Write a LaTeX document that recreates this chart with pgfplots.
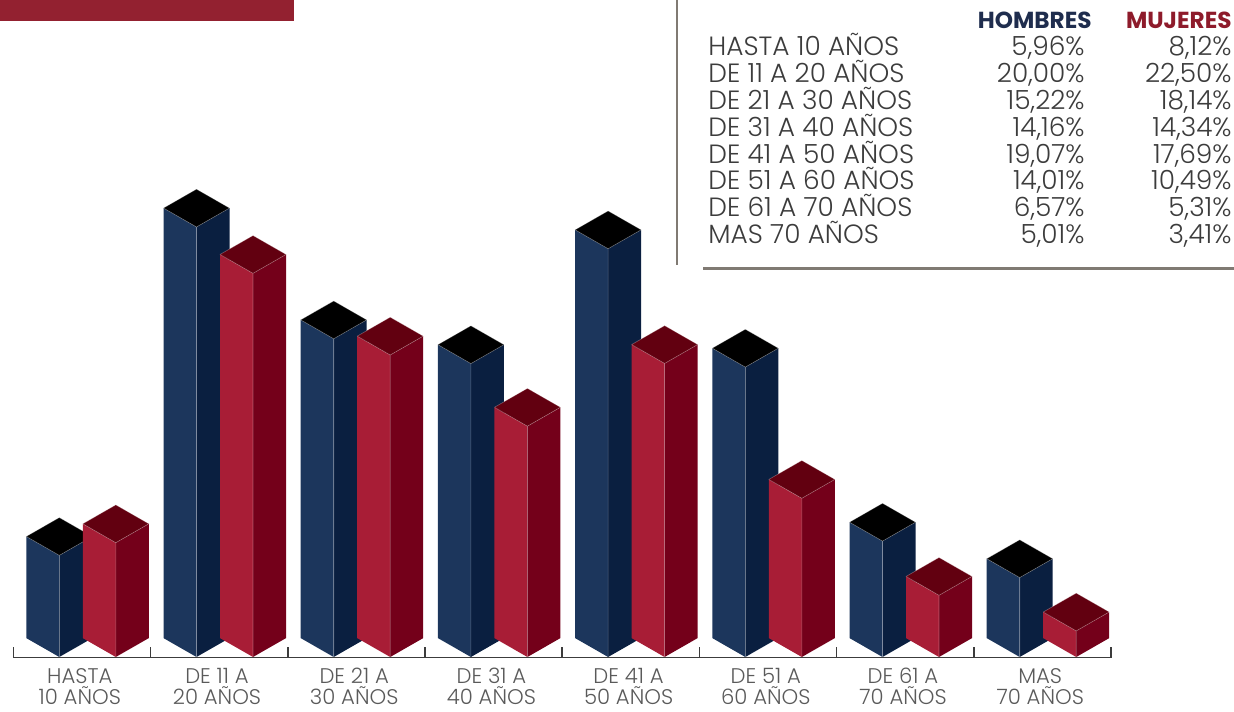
\documentclass[border=0pt]{standalone}
\usepackage{pgfplots}
\pgfplotsset{compat=1.18}
\usepackage{pgfplotstable}
\usepackage{fontspec}
\IfFontExistsTF{Poppins Light}{%
  \IfFontExistsTF{Poppins Bold}{\setmainfont{Poppins Light}[BoldFont={Poppins Bold}]}{\setmainfont{Poppins Light}}%
}{\setmainfont{Poppins}}

\definecolor{navyL}{RGB}{28,54,92}
\definecolor{navyR}{RGB}{10,31,64}
\definecolor{navyT}{RGB}{0,0,0}
\definecolor{redL}{RGB}{168,29,54}
\definecolor{redR}{RGB}{116,0,26}
\definecolor{redT}{RGB}{98,0,16}
\definecolor{stripred}{RGB}{147,33,48}
\definecolor{hdrnavy}{RGB}{31,45,78}
\definecolor{hdrred}{RGB}{142,27,43}
\definecolor{linegray}{RGB}{128,122,115}
\definecolor{txtgray}{RGB}{60,60,60}
\definecolor{labgray}{RGB}{90,90,90}
\definecolor{basegray}{RGB}{60,60,60}

% isometric box mark: top vertex at the data point, bottom vertex at value 0
\newcommand\defisobox[5]{%
\pgfdeclareplotmark{#1}{%
 \pgfscope
 \pgftransformxshift{#2}%
 \pgfpathmoveto{\pgfqpoint{-16.5pt}{-9.45pt}}%
 \pgfpathlineto{\pgfqpoint{0pt}{-18.9pt}}%
 \pgfpathlineto{\pgfpoint{0pt}{-\boxh pt}}%
 \pgfpathlineto{\pgfpoint{-16.5pt}{-\boxh pt+9.45pt}}%
 \pgfpathclose
 \pgfsetfillcolor{#3}\pgfusepath{fill}%
 \pgfpathmoveto{\pgfqpoint{0pt}{-18.9pt}}%
 \pgfpathlineto{\pgfqpoint{16.5pt}{-9.45pt}}%
 \pgfpathlineto{\pgfpoint{16.5pt}{-\boxh pt+9.45pt}}%
 \pgfpathlineto{\pgfpoint{0pt}{-\boxh pt}}%
 \pgfpathclose
 \pgfsetfillcolor{#4}\pgfusepath{fill}%
 \pgfpathmoveto{\pgfqpoint{0pt}{0pt}}%
 \pgfpathlineto{\pgfqpoint{16.5pt}{-9.45pt}}%
 \pgfpathlineto{\pgfqpoint{0pt}{-18.9pt}}%
 \pgfpathlineto{\pgfqpoint{-16.5pt}{-9.45pt}}%
 \pgfpathclose
 \pgfsetfillcolor{#5}\pgfusepath{fill}%
 \pgfsetstrokecolor{white}\pgfsetstrokeopacity{0.3}\pgfsetlinewidth{0.3pt}%
 \pgfpathmoveto{\pgfqpoint{0pt}{-18.9pt}}\pgfpathlineto{\pgfpoint{0pt}{-\boxh pt}}%
 \pgfpathmoveto{\pgfqpoint{-16.5pt}{-9.45pt}}\pgfpathlineto{\pgfqpoint{0pt}{-18.9pt}}\pgfpathlineto{\pgfqpoint{16.5pt}{-9.45pt}}%
 \pgfpathlineto{\pgfqpoint{0pt}{0pt}}\pgfpathlineto{\pgfqpoint{-16.5pt}{-9.45pt}}%
 \pgfusepath{stroke}%
 \endpgfscope
}}
\defisobox{navybox}{-11.25pt}{navyL}{navyR}{navyT}
\defisobox{redbox}{17pt}{redL}{redR}{redT}

\pgfplotstableread{
k v
0 5.96
1 20.00
2 15.22
3 14.16
4 19.07
5 14.01
6 6.57
7 5.01
}\hombres
\pgfplotstableread{
k v
0 8.12
1 22.50
2 18.14
3 14.34
4 17.69
5 10.49
6 5.31
7 3.41
}\mujeres

\begin{document}
\begin{tikzpicture}
\begin{axis}[
  at={(0,0)}, anchor=south west,
  x=68.6pt, y=11.695pt,
  xmin=-0.5962, xmax=8.3980, ymin=-2.3087, ymax=28.0889,
  clip=false,
  axis line style={draw=none},
  tick style={draw=none},
  ytick=\empty,
  xtick={0,...,7},
  xticklabels={{HASTA\\10 AÑOS},{DE 11 A\\20 AÑOS},{DE 21 A\\30 AÑOS},{DE 31 A\\40 AÑOS},{DE 41 A\\50 AÑOS},{DE 51 A\\60 AÑOS},{DE 61 A\\70 AÑOS},{MAS\\70 AÑOS}},
  xticklabel style={align=center, anchor=north, inner sep=0pt, yshift=21.5pt, xshift=-1pt, font=\fontsize{10.6}{10.4}\selectfont, text=labgray},
]
\addplot[only marks, mark=navybox, visualization depends on={\thisrow{v}*11.695 \as \boxh}] table[x=k,y=v]{\hombres};
\end{axis}
\begin{axis}[
  at={(0,0)}, anchor=south west,
  x=68.6pt, y=9.365pt,
  xmin=-0.5962, xmax=8.3980, ymin=-2.8831, ymax=35.0774,
  clip=false,
  axis line style={draw=none},
  tick style={draw=none},
  ytick=\empty, xtick=\empty,
]
\addplot[only marks, mark=redbox, visualization depends on={\thisrow{v}*9.365 \as \boxh}] table[x=k,y=v]{\mujeres};
\end{axis}
\begin{scope}[x=0.5pt, y=-0.5pt, yshift=355.5pt]
  \fill[stripred] (0,0) rectangle (294,20.7);
  \draw[line width=0.8pt, basegray] (13.3,657.3) -- (1110.9,657.3);
  \foreach \k in {0,...,8} \draw[line width=0.8pt, basegray] ({13.3+137.2*\k},657.6) -- ++(0,-11);
  \draw[line width=1.25pt, linegray] (677,0) -- (677,265);
  \draw[line width=1.25pt, linegray] (703,268.3) -- (1234,268.3);
  \node[anchor=base east, inner sep=0pt, font=\fontsize{11.6}{12}\selectfont\bfseries, text=hdrnavy] at (1092,29) {HOMBRES};
  \node[anchor=base east, inner sep=0pt, font=\fontsize{11.6}{12}\selectfont\bfseries, text=hdrred] at (1232,29) {MUJERES};
  \foreach \lab/\h/\m [count=\i from 0] in {{HASTA 10 AÑOS}/{5,96\%}/{8,12\%}, {DE 11 A 20 AÑOS}/{20,00\%}/{22,50\%}, {DE 21 A 30 AÑOS}/{15,22\%}/{18,14\%}, {DE 31 A 40 AÑOS}/{14,16\%}/{14,34\%}, {DE 41 A 50 AÑOS}/{19,07\%}/{17,69\%}, {DE 51 A 60 AÑOS}/{14,01\%}/{10,49\%}, {DE 61 A 70 AÑOS}/{6,57\%}/{5,31\%}, {MAS 70 AÑOS}/{5,01\%}/{3,41\%}} {
    \node[anchor=base west, inner sep=0pt, font=\fontsize{13.2}{14}\selectfont, text=txtgray] at (708,{56+26.8*\i}) {\lab};
    \node[anchor=base east, inner sep=0pt, font=\fontsize{13.2}{14}\selectfont, text=txtgray] at (1085,{56+26.8*\i}) {\h};
    \node[anchor=base east, inner sep=0pt, font=\fontsize{13.2}{14}\selectfont, text=txtgray] at (1232,{56+26.8*\i}) {\m};
  }
  \pgfresetboundingbox
  \path[use as bounding box] (0,0) rectangle (1234,711);
\end{scope}
\end{tikzpicture}
\end{document}
